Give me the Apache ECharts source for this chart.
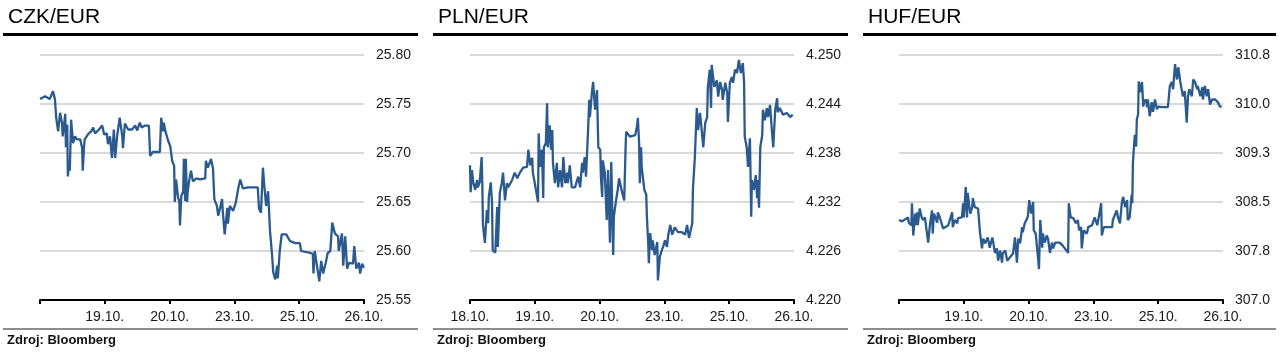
<!DOCTYPE html>
<html>
<head>
<meta charset="utf-8">
<script src="https://cdn.jsdelivr.net/npm/echarts@6/dist/echarts.min.js"></script>
<style>
html,body{margin:0;padding:0;background:#fff;}
#main{width:1281px;height:353px;}
</style>
</head>
<body>
<div id="main"></div>
<script>
// x = trading day position (0 = first tick, 5 = last tick)
var czkPoints = [[0,25.755],[0.08,25.758],[0.15,25.755],[0.20,25.763],[0.23,25.755],[0.25,25.736],[0.28,25.722],[0.31,25.741],[0.34,25.730],[0.35,25.717],[0.39,25.740],[0.40,25.706],[0.42,25.729],[0.43,25.676],[0.45,25.692],[0.46,25.682],[0.48,25.734],[0.51,25.710],[0.54,25.717],[0.57,25.714],[0.62,25.714],[0.65,25.705],[0.66,25.682],[0.68,25.707],[0.69,25.714],[0.74,25.719],[0.79,25.722],[0.82,25.726],[0.85,25.720],[0.88,25.721],[0.91,25.724],[0.96,25.728],[0.99,25.719],[1.03,25.720],[1.05,25.709],[1.08,25.717],[1.11,25.695],[1.14,25.724],[1.16,25.695],[1.19,25.717],[1.23,25.736],[1.27,25.717],[1.28,25.705],[1.31,25.730],[1.36,25.724],[1.42,25.724],[1.47,25.728],[1.50,25.723],[1.51,25.721],[1.54,25.731],[1.57,25.726],[1.62,25.728],[1.68,25.728],[1.70,25.697],[1.74,25.701],[1.85,25.701],[1.87,25.736],[1.90,25.722],[1.91,25.731],[1.94,25.721],[1.98,25.712],[2.01,25.707],[2.04,25.692],[2.07,25.687],[2.08,25.650],[2.10,25.673],[2.13,25.655],[2.15,25.650],[2.16,25.626],[2.18,25.656],[2.21,25.661],[2.22,25.694],[2.24,25.651],[2.25,25.694],[2.27,25.650],[2.28,25.661],[2.30,25.671],[2.33,25.682],[2.36,25.671],[2.41,25.674],[2.47,25.673],[2.55,25.674],[2.56,25.692],[2.59,25.685],[2.64,25.694],[2.65,25.695],[2.67,25.684],[2.69,25.653],[2.73,25.646],[2.75,25.636],[2.78,25.644],[2.81,25.653],[2.82,25.641],[2.85,25.617],[2.89,25.644],[2.90,25.628],[2.93,25.646],[2.98,25.641],[3.02,25.649],[3.06,25.664],[3.09,25.673],[3.13,25.664],[3.21,25.665],[3.36,25.665],[3.38,25.643],[3.41,25.639],[3.44,25.685],[3.46,25.668],[3.49,25.646],[3.52,25.661],[3.55,25.620],[3.58,25.597],[3.60,25.578],[3.63,25.571],[3.66,25.585],[3.67,25.572],[3.70,25.600],[3.73,25.617],[3.80,25.617],[3.86,25.610],[3.94,25.608],[4.01,25.608],[4.03,25.600],[4.17,25.598],[4.21,25.597],[4.22,25.577],[4.24,25.600],[4.29,25.578],[4.31,25.569],[4.34,25.590],[4.37,25.577],[4.41,25.588],[4.44,25.598],[4.48,25.600],[4.51,25.629],[4.55,25.618],[4.60,25.615],[4.61,25.600],[4.66,25.618],[4.68,25.585],[4.71,25.615],[4.72,25.617],[4.74,25.582],[4.77,25.588],[4.83,25.587],[4.85,25.605],[4.88,25.582],[4.92,25.588],[4.94,25.577],[4.97,25.587],[5.00,25.583]];

var plnPoints = [[0,4.2365],[0.01,4.2332],[0.03,4.2359],[0.05,4.2344],[0.08,4.2335],[0.11,4.2347],[0.12,4.2338],[0.15,4.2344],[0.18,4.2375],[0.19,4.2343],[0.20,4.2292],[0.23,4.2270],[0.26,4.2310],[0.28,4.2294],[0.29,4.2326],[0.32,4.2344],[0.34,4.2319],[0.35,4.2261],[0.39,4.2258],[0.42,4.2314],[0.43,4.2265],[0.46,4.2331],[0.49,4.2343],[0.51,4.2356],[0.54,4.2322],[0.57,4.2343],[0.59,4.2338],[0.65,4.2347],[0.69,4.2356],[0.73,4.2349],[0.77,4.2356],[0.82,4.2362],[0.88,4.2363],[0.90,4.2384],[0.93,4.2365],[0.96,4.2374],[0.97,4.2356],[1.00,4.2343],[1.05,4.2320],[1.06,4.2404],[1.08,4.2363],[1.11,4.2384],[1.13,4.2325],[1.14,4.2387],[1.17,4.2392],[1.19,4.2441],[1.20,4.2387],[1.23,4.2414],[1.25,4.2384],[1.27,4.2408],[1.28,4.2368],[1.31,4.2343],[1.34,4.2368],[1.36,4.2338],[1.39,4.2359],[1.42,4.2338],[1.44,4.2375],[1.47,4.2343],[1.50,4.2356],[1.51,4.2343],[1.54,4.2365],[1.57,4.2338],[1.62,4.2338],[1.67,4.2351],[1.70,4.2338],[1.73,4.2368],[1.74,4.2356],[1.77,4.2375],[1.79,4.2351],[1.82,4.2404],[1.84,4.2445],[1.85,4.2424],[1.88,4.2453],[1.90,4.2467],[1.93,4.2433],[1.96,4.2457],[1.98,4.2387],[2.01,4.2384],[2.02,4.2351],[2.04,4.2326],[2.05,4.2371],[2.08,4.2356],[2.11,4.2298],[2.13,4.2359],[2.16,4.2270],[2.18,4.2369],[2.21,4.2255],[2.22,4.2302],[2.25,4.2320],[2.28,4.2335],[2.30,4.2349],[2.35,4.2331],[2.38,4.2322],[2.40,4.2384],[2.41,4.2406],[2.44,4.2406],[2.47,4.2400],[2.55,4.2402],[2.58,4.2414],[2.59,4.2423],[2.61,4.2392],[2.62,4.2343],[2.64,4.2387],[2.65,4.2363],[2.69,4.2335],[2.72,4.2329],[2.73,4.2302],[2.75,4.2270],[2.76,4.2245],[2.78,4.2282],[2.81,4.2261],[2.82,4.2273],[2.85,4.2255],[2.89,4.2271],[2.90,4.2224],[2.93,4.2253],[2.96,4.2261],[2.98,4.2265],[3.01,4.2273],[3.04,4.2265],[3.06,4.2280],[3.09,4.2292],[3.12,4.2280],[3.16,4.2289],[3.21,4.2283],[3.27,4.2283],[3.32,4.2280],[3.35,4.2292],[3.38,4.2276],[3.43,4.2294],[3.44,4.2335],[3.47,4.2375],[3.50,4.2435],[3.52,4.2408],[3.55,4.2429],[3.58,4.2404],[3.60,4.2387],[3.63,4.2417],[3.66,4.2424],[3.67,4.2460],[3.70,4.2482],[3.72,4.2435],[3.73,4.2488],[3.77,4.2461],[3.81,4.2469],[3.83,4.2449],[3.86,4.2467],[3.89,4.2457],[3.90,4.2445],[3.94,4.2466],[3.97,4.2453],[3.98,4.2418],[4.01,4.2466],[4.04,4.2473],[4.06,4.2466],[4.09,4.2482],[4.12,4.2478],[4.15,4.2494],[4.18,4.2478],[4.21,4.2490],[4.23,4.2466],[4.24,4.2400],[4.27,4.2387],[4.29,4.2363],[4.32,4.2398],[4.34,4.2302],[4.35,4.2347],[4.38,4.2335],[4.41,4.2353],[4.43,4.2325],[4.44,4.2347],[4.46,4.2313],[4.48,4.2387],[4.51,4.2402],[4.52,4.2433],[4.55,4.2420],[4.58,4.2435],[4.60,4.2424],[4.63,4.2439],[4.66,4.2406],[4.68,4.2387],[4.71,4.2433],[4.74,4.2447],[4.75,4.2430],[4.78,4.2435],[4.83,4.2427],[4.89,4.2429],[4.94,4.2424],[4.98,4.2427]];

var hufPoints = [[0,308.24],[0.05,308.22],[0.09,308.25],[0.14,308.28],[0.15,308.20],[0.19,308.16],[0.20,308.50],[0.22,308.00],[0.25,308.34],[0.26,308.16],[0.28,308.36],[0.29,308.16],[0.32,308.42],[0.35,308.28],[0.37,308.24],[0.40,308.28],[0.43,308.05],[0.45,307.89],[0.48,308.19],[0.51,308.39],[0.52,308.03],[0.54,308.34],[0.59,308.20],[0.60,308.36],[0.63,308.28],[0.66,308.31],[0.68,308.11],[0.71,308.08],[0.76,308.16],[0.79,308.19],[0.82,308.36],[0.83,308.13],[0.86,308.24],[0.90,308.19],[0.91,308.27],[0.97,308.28],[0.99,308.50],[1.00,308.28],[1.03,308.75],[1.05,308.28],[1.06,308.66],[1.10,308.34],[1.13,308.44],[1.14,308.58],[1.17,308.44],[1.22,308.42],[1.25,308.05],[1.28,307.80],[1.30,307.95],[1.33,307.88],[1.37,307.97],[1.40,307.81],[1.44,307.97],[1.45,307.92],[1.48,307.73],[1.51,307.80],[1.53,307.61],[1.56,307.77],[1.59,307.58],[1.60,307.72],[1.64,307.77],[1.67,307.61],[1.71,307.66],[1.76,307.72],[1.79,307.97],[1.82,307.58],[1.84,307.95],[1.87,307.88],[1.90,308.13],[1.91,308.05],[1.94,308.19],[1.98,308.27],[1.99,308.31],[2.01,308.55],[2.04,308.34],[2.07,308.52],[2.08,308.08],[2.11,308.03],[2.15,307.61],[2.16,307.48],[2.18,308.24],[2.21,307.81],[2.22,308.03],[2.25,307.89],[2.28,308.00],[2.30,307.95],[2.33,307.73],[2.36,307.89],[2.38,307.80],[2.41,307.89],[2.48,307.89],[2.53,307.84],[2.56,307.84],[2.61,307.73],[2.62,308.50],[2.65,308.28],[2.69,308.27],[2.73,308.19],[2.76,308.24],[2.78,308.08],[2.81,308.13],[2.82,307.80],[2.85,308.08],[2.90,308.03],[2.92,308.13],[2.98,308.16],[3.02,308.28],[3.06,308.16],[3.09,308.16],[3.12,308.50],[3.13,308.00],[3.16,308.13],[3.22,308.13],[3.29,308.13],[3.30,308.24],[3.33,308.27],[3.36,308.39],[3.38,308.28],[3.41,308.19],[3.44,308.52],[3.46,308.60],[3.49,308.44],[3.52,308.55],[3.53,308.24],[3.56,308.28],[3.59,308.63],[3.60,308.50],[3.61,309.13],[3.63,309.44],[3.64,309.56],[3.66,309.38],[3.67,309.80],[3.69,309.88],[3.70,310.39],[3.72,310.22],[3.75,310.38],[3.77,310.00],[3.78,310.07],[3.81,310.11],[3.83,309.99],[3.84,310.11],[3.87,309.85],[3.90,310.07],[3.92,309.92],[3.95,310.11],[3.98,309.96],[4.00,310.00],[4.06,309.99],[4.10,309.99],[4.15,309.99],[4.18,310.32],[4.21,310.38],[4.23,310.27],[4.26,310.66],[4.29,310.42],[4.31,310.61],[4.34,310.39],[4.37,310.22],[4.38,310.16],[4.41,310.24],[4.44,309.75],[4.46,310.16],[4.48,310.27],[4.52,310.16],[4.54,310.42],[4.57,310.38],[4.60,310.27],[4.61,310.32],[4.65,310.16],[4.68,310.30],[4.69,310.11],[4.72,310.32],[4.75,310.16],[4.77,310.27],[4.80,310.03],[4.83,310.11],[4.88,310.11],[4.92,310.07],[4.95,310.00],[4.98,310.00]];

var czkTicks = [25.55, 25.60, 25.65, 25.70, 25.75, 25.80];
var plnTicks = [4.220, 4.226, 4.232, 4.238, 4.244, 4.250];
var hufTicks = [307.0, 307.76, 308.52, 309.28, 310.04, 310.8];

var czkDays = ['', '19.10.', '20.10.', '23.10.', '25.10.', '26.10.'];
var plnDays = ['18.10.', '19.10.', '20.10.', '23.10.', '25.10.', '26.10.'];
var hufDays = ['', '19.10.', '20.10.', '23.10.', '25.10.', '26.10.'];

var titles = ['CZK/EUR', 'PLN/EUR', 'HUF/EUR'];
var source = 'Zdroj: Bloomberg';

var lineColor = '#2b5a8e';
var fontFam = 'Liberation Sans, Arial, sans-serif';

var panels = [
	{left: 40, ruleX: 3, ruleW: 415, pts: czkPoints, ticks: czkTicks, days: czkDays, dec: 2},
	{left: 470, ruleX: 433, ruleW: 415, pts: plnPoints, ticks: plnTicks, days: plnDays, dec: 3},
	{left: 899, ruleX: 863, ruleW: 413, pts: hufPoints, ticks: hufTicks, days: hufDays, dec: 1}
];

var grid = [], xAxis = [], yAxis = [], series = [], title = [], graphic = [];

for (var i = 0; i < panels.length; i++) {
	var p = panels[i];
	grid.push({left: p.left, top: 55, width: 324, height: 245});
	(function(days){
		xAxis.push({
			type: 'value', gridIndex: i, min: 0, max: 5, interval: 1,
			axisLine: {show: true, lineStyle: {color: '#000', width: 2}},
			axisTick: {show: true, length: 4, lineStyle: {color: '#000', width: 2}},
			axisLabel: {color: '#1a1a1a', fontSize: 14, fontFamily: fontFam, margin: 10,
				formatter: function(v){ return days[Math.round(v)] || ''; }},
			splitLine: {show: false}
		});
	})(p.days);
	(function(dec){
		yAxis.push({
			type: 'value', gridIndex: i, position: 'right',
			min: p.ticks[0], max: p.ticks[p.ticks.length - 1],
			axisLine: {show: false},
			axisTick: {show: false, customValues: p.ticks},
			axisLabel: {customValues: p.ticks, color: '#1a1a1a', fontSize: 14, fontFamily: fontFam, margin: 12,
				formatter: function(v){ return v.toFixed(dec); }},
			splitLine: {show: true, lineStyle: {color: '#d9d9d9', width: 2}}
		});
	})(p.dec);
	series.push({
		type: 'line', xAxisIndex: i, yAxisIndex: i, data: p.pts,
		showSymbol: false, symbol: 'none', animation: false,
		lineStyle: {color: lineColor, width: 2.3}
	});
	title.push({text: titles[i], left: p.ruleX + 5, top: 7,
		textStyle: {fontSize: 21, fontWeight: 'normal', color: '#000', fontFamily: fontFam}, padding: 0});
	title.push({text: source, left: p.ruleX + 4, top: 334,
		textStyle: {fontSize: 13, fontWeight: 'bold', color: '#111', fontFamily: fontFam}, padding: 0});
	graphic.push({type: 'rect', shape: {x: p.ruleX, y: 33, width: p.ruleW, height: 3}, style: {fill: '#000'}});
	graphic.push({type: 'rect', shape: {x: p.ruleX, y: 328, width: p.ruleW, height: 2}, style: {fill: '#8c8c8c'}});
}

var myChart = echarts.init(document.getElementById('main'));
myChart.setOption({
	animation: false,
	title: title,
	grid: grid,
	xAxis: xAxis,
	yAxis: yAxis,
	series: series,
	graphic: graphic
});
</script>
</body>
</html>
